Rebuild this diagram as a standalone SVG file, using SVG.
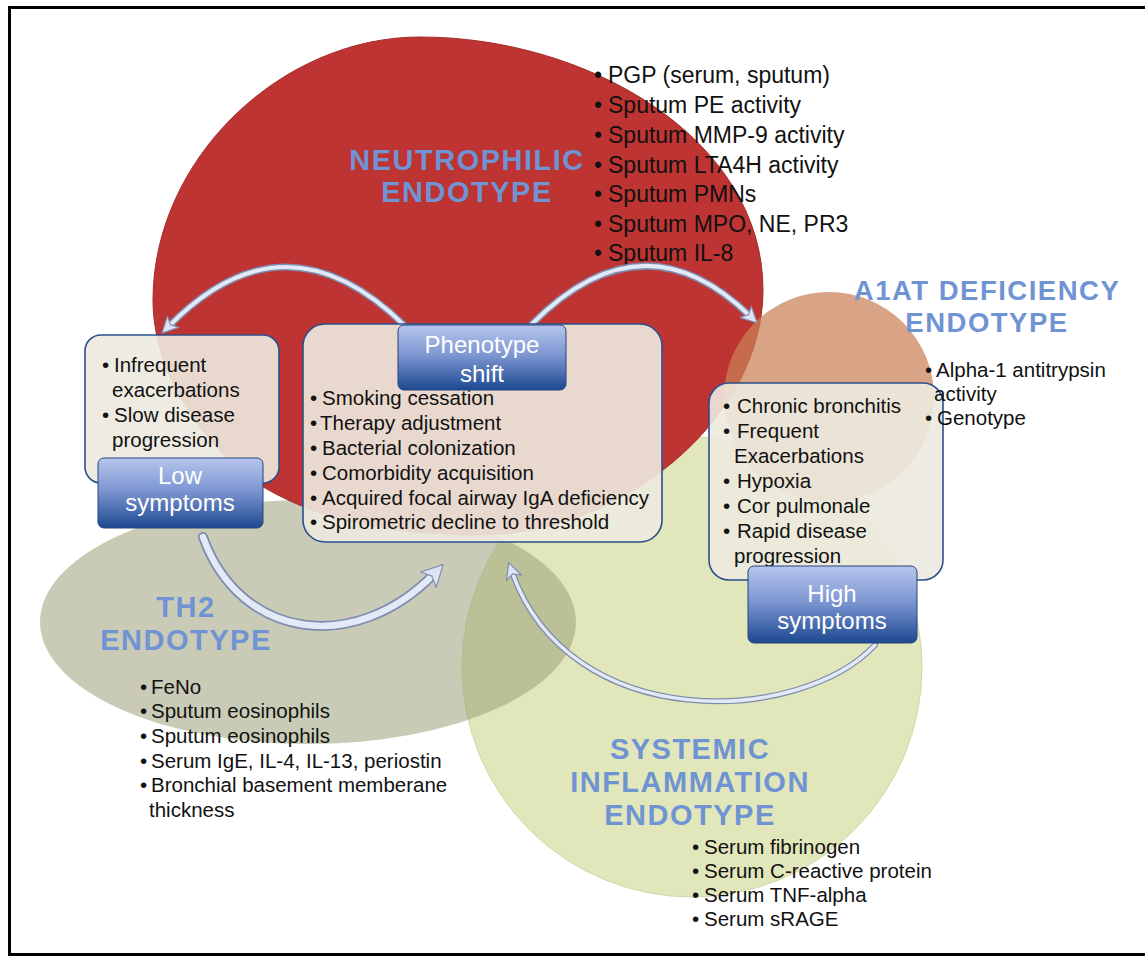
<svg xmlns="http://www.w3.org/2000/svg" width="1145" height="957" viewBox="0 0 1145 957">
<defs>
<style>
.title{font-family:"Liberation Sans",Arial,sans-serif;font-weight:bold;fill:#6F93D3;letter-spacing:1.5px;text-anchor:middle}
.b{font-family:"Liberation Sans",Arial,sans-serif;font-size:20.5px;fill:#111}
.n{font-family:"Liberation Sans",Arial,sans-serif;font-size:23px;fill:#111}
.btxt{font-family:"Liberation Sans",Arial,sans-serif;font-size:24px;fill:#fff;text-anchor:middle}
.box{fill:#ECEADF;fill-opacity:0.9;stroke:#2B4F8C;stroke-width:1.6}
.btn{fill:url(#btnGrad);stroke:#24457F;stroke-width:1}
.tubeO{fill:none;stroke:#7E8DAE;stroke-linecap:round}
.tubeI{fill:none;stroke:#E3E9F6;stroke-linecap:round}
</style>
<linearGradient id="btnGrad" x1="0" y1="0" x2="0" y2="1">
<stop offset="0" stop-color="#B6C5EC"/>
<stop offset="0.45" stop-color="#7F98D3"/>
<stop offset="1" stop-color="#1D4890"/>
</linearGradient>
<marker id="headS" viewBox="-8 -10 20 20" refX="0" refY="0" markerWidth="20" markerHeight="20" markerUnits="userSpaceOnUse" orient="auto">
<path d="M10,0 L-6,-8 L-2,0 L-6,8 Z" fill="#DCE4F4" stroke="#7E8DAE" stroke-width="1.2" stroke-linejoin="round"/>
</marker>
<marker id="headL" viewBox="-10 -13 26 26" refX="0" refY="0" markerWidth="26" markerHeight="26" markerUnits="userSpaceOnUse" orient="auto">
<path d="M13,0 L-8,-11 L-3,0 L-8,11 Z" fill="#DCE4F4" stroke="#7E8DAE" stroke-width="1.2" stroke-linejoin="round"/>
</marker>
</defs>
<rect x="0" y="0" width="1145" height="957" fill="#fff"/>
<rect x="9.5" y="7.5" width="1150" height="947" fill="none" stroke="#000" stroke-width="3"/>

<g id="systemic-endotype">
<circle cx="692" cy="667" r="230" fill="#E1E7BA" stroke="#D2D8A8" stroke-width="1"/>
</g>
<g id="th2-endotype">
<ellipse cx="308" cy="622" rx="268" ry="122" fill="#9DA07A" fill-opacity="0.55"/>
</g>
<g id="neutrophilic-endotype">
<path d="M153,300 C153,160 280,37 420,37 C590,37 763,140 763,290 C763,420 620,535 480,535 C390,535 320,520 265,488 C205,450 153,375 153,300 Z" fill="#BE3433" stroke="#A52C2B" stroke-width="1"/>
</g>
<g id="a1at-endotype">
<circle cx="829" cy="397" r="105" fill="#CB8158" fill-opacity="0.72"/>
</g>

<g id="titles">
<text class="title" font-size="29" x="467" y="170">NEUTROPHILIC</text>
<text class="title" font-size="29" x="467" y="202">ENDOTYPE</text>
<text class="title" font-size="27.5" x="987" y="300">A1AT DEFICIENCY</text>
<text class="title" font-size="27.5" x="987" y="332">ENDOTYPE</text>
<text class="title" font-size="29" x="186" y="617">TH2</text>
<text class="title" font-size="29" x="186" y="650">ENDOTYPE</text>
<text class="title" font-size="29" x="690" y="759">SYSTEMIC</text>
<text class="title" font-size="29" x="690" y="792">INFLAMMATION</text>
<text class="title" font-size="29" x="690" y="825">ENDOTYPE</text>
</g>

<g id="neutrophilic-markers" class="n">
<text y="83"><tspan x="594">•</tspan><tspan x="608">PGP (serum, sputum)</tspan></text>
<text y="113"><tspan x="594">•</tspan><tspan x="608">Sputum PE activity</tspan></text>
<text y="143"><tspan x="594">•</tspan><tspan x="608">Sputum MMP-9 activity</tspan></text>
<text y="173"><tspan x="594">•</tspan><tspan x="608">Sputum LTA4H activity</tspan></text>
<text y="202"><tspan x="594">•</tspan><tspan x="608">Sputum PMNs</tspan></text>
<text y="232"><tspan x="594">•</tspan><tspan x="608">Sputum MPO, NE, PR3</tspan></text>
<text y="261"><tspan x="594">•</tspan><tspan x="608">Sputum IL-8</tspan></text>
</g>

<g id="th2-markers" class="b">
<text y="694"><tspan x="140">•</tspan><tspan x="151">FeNo</tspan></text>
<text y="718"><tspan x="140">•</tspan><tspan x="151">Sputum eosinophils</tspan></text>
<text y="743"><tspan x="140">•</tspan><tspan x="151">Sputum eosinophils</tspan></text>
<text y="768"><tspan x="140">•</tspan><tspan x="151">Serum IgE, IL-4, IL-13, periostin</tspan></text>
<text y="792"><tspan x="140">•</tspan><tspan x="151">Bronchial basement memberane</tspan></text>
<text y="817"><tspan x="149">thickness</tspan></text>
</g>

<g id="systemic-markers" class="b">
<text y="854"><tspan x="692">•</tspan><tspan x="704">Serum fibrinogen</tspan></text>
<text y="878"><tspan x="692">•</tspan><tspan x="704">Serum C-reactive protein</tspan></text>
<text y="902"><tspan x="692">•</tspan><tspan x="704">Serum TNF-alpha</tspan></text>
<text y="926"><tspan x="692">•</tspan><tspan x="704">Serum sRAGE</tspan></text>
</g>

<g id="connectors">
<path class="tubeO" stroke-width="7" d="M405,326 Q285,208 169,326"/>
<path class="tubeI" stroke-width="4" d="M405,326 Q285,208 169,326" marker-end="url(#headS)"/>
<path class="tubeO" stroke-width="7" d="M532,324 Q643,212 750,316"/>
<path class="tubeI" stroke-width="4" d="M532,324 Q643,212 750,316" marker-end="url(#headS)"/>
<path class="tubeO" stroke-width="10" d="M203,537 C240,640 355,655 434,574"/>
<path class="tubeI" stroke-width="6.5" d="M203,537 C240,640 355,655 434,574" marker-end="url(#headL)"/>
<path class="tubeO" stroke-width="6" d="M875,645 C800,725 570,735 512,572"/>
<path class="tubeI" stroke-width="3.5" d="M875,645 C800,725 570,735 512,572" marker-end="url(#headS)"/>
</g>

<g id="low-symptoms-box">
<rect class="box" x="85" y="335" width="194" height="148" rx="16"/>
<g class="b">
<text y="372"><tspan x="102">•</tspan><tspan x="114">Infrequent</tspan></text>
<text y="397"><tspan x="112">exacerbations</tspan></text>
<text y="422"><tspan x="102">•</tspan><tspan x="114">Slow disease</tspan></text>
<text y="447"><tspan x="112">progression</tspan></text>
</g>
</g>

<g id="phenotype-shift-box">
<rect class="box" x="303" y="324" width="359" height="218" rx="22"/>
<g class="b">
<text y="405"><tspan x="310">•</tspan><tspan x="322">Smoking cessation</tspan></text>
<text y="430"><tspan x="310">•</tspan><tspan x="320">Therapy adjustment</tspan></text>
<text y="455"><tspan x="310">•</tspan><tspan x="322">Bacterial colonization</tspan></text>
<text y="480"><tspan x="310">•</tspan><tspan x="322">Comorbidity acquisition</tspan></text>
<text y="505"><tspan x="310">•</tspan><tspan x="322">Acquired focal airway IgA deficiency</tspan></text>
<text y="529"><tspan x="310">•</tspan><tspan x="322">Spirometric decline to threshold</tspan></text>
</g>
</g>

<g id="high-symptoms-box">
<rect class="box" x="709" y="383" width="234" height="197" rx="20"/>
<g class="b">
<text y="413"><tspan x="723">•</tspan><tspan x="737">Chronic bronchitis</tspan></text>
<text y="438"><tspan x="723">•</tspan><tspan x="737">Frequent</tspan></text>
<text y="463"><tspan x="734">Exacerbations</tspan></text>
<text y="488"><tspan x="723">•</tspan><tspan x="737">Hypoxia</tspan></text>
<text y="513"><tspan x="723">•</tspan><tspan x="737">Cor pulmonale</tspan></text>
<text y="538"><tspan x="723">•</tspan><tspan x="737">Rapid disease</tspan></text>
<text y="563"><tspan x="734">progression</tspan></text>
</g>
</g>

<g id="a1at-markers" class="b">
<text y="377"><tspan x="925">•</tspan><tspan x="936">Alpha-1 antitrypsin</tspan></text>
<text y="401"><tspan x="934">activity</tspan></text>
<text y="425"><tspan x="925">•</tspan><tspan x="937">Genotype</tspan></text>
</g>

<g id="low-symptoms">
<rect class="btn" x="98" y="458" width="165" height="70" rx="6"/>
<text class="btxt" x="180" y="484">Low</text>
<text class="btxt" x="180" y="511">symptoms</text>
</g>
<g id="phenotype-shift">
<rect class="btn" x="398" y="325" width="168" height="65" rx="6"/>
<text class="btxt" x="482" y="353">Phenotype</text>
<text class="btxt" x="482" y="382">shift</text>
</g>
<g id="high-symptoms">
<rect class="btn" x="748" y="566" width="169" height="77" rx="6"/>
<text class="btxt" x="832" y="602">High</text>
<text class="btxt" x="832" y="629">symptoms</text>
</g>
</svg>
